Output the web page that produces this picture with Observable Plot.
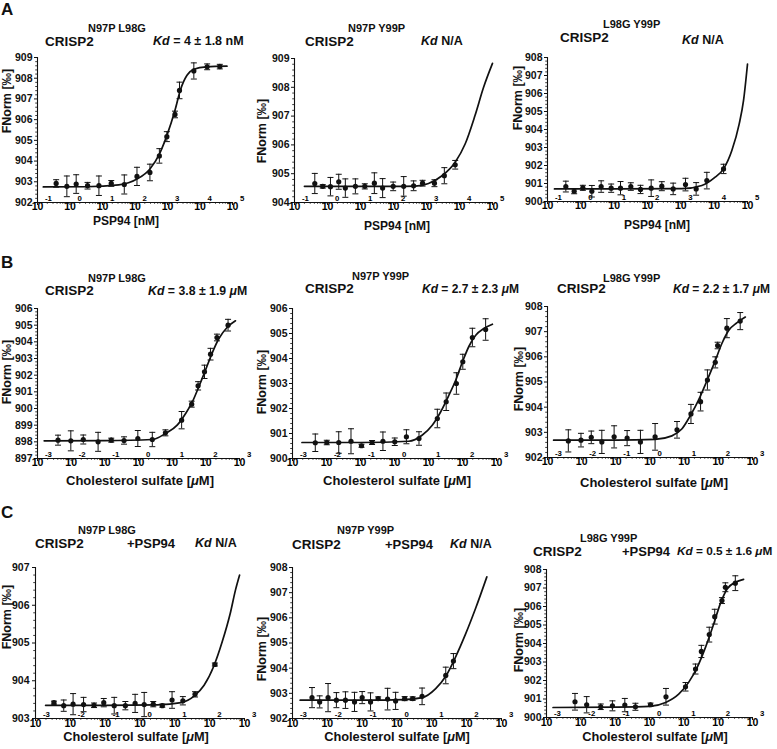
<!DOCTYPE html>
<html><head><meta charset="utf-8">
<script src="https://cdn.jsdelivr.net/npm/d3@7"></script>
<script src="https://cdn.jsdelivr.net/npm/@observablehq/plot@0.6"></script>
<style>
html,body{margin:0;padding:0;background:#fff}
#fig{position:relative;width:777px;height:749px;overflow:hidden;font-family:"Liberation Sans",Arial,Helvetica,sans-serif;font-weight:bold;color:#111}
.t{position:absolute;white-space:nowrap;line-height:1}
.yl{position:absolute;white-space:nowrap;line-height:1;transform:translate(-50%,-50%) rotate(-90deg)}
</style></head><body><div id="fig"></div><script>
// ---------- Data ----------
// Row A: CRISP2 mutants vs PSP94 [nM]
const a1Conc = [0.375, 0.80, 1.55, 3.47, 7.76, 18.6, 46.8, 115, 288, 562, 955, 1700, 2340, 6460, 16600, 40700];
const a1Norm = [902.92, 902.78, 902.89, 902.81, 902.81, 902.92, 902.87, 903.26, 903.45, 904.25, 905.18, 906.25, 907.41, 908.35, 908.55, 908.56];
const a1Err  = [0.18, 0.5, 0.45, 0.16, 0.47, 0.14, 0.46, 0.44, 0.4, 0.35, 0.24, 0.16, 0.4, 0.39, 0.14, 0.11];
const a1FitConc = [0.151, 3.16, 31.6, 115, 288, 562, 955, 1700, 2455, 3981, 6457, 15850, 67600];
const a1FitNorm = [902.75, 902.76, 902.85, 903.13, 903.62, 904.34, 905.23, 906.45, 907.4, 908.14, 908.43, 908.55, 908.58];

const a2Conc = [0.412, 0.719, 1.23, 2.19, 3.47, 7.0, 13.5, 26.3, 46.8, 97.7, 204, 407, 759, 1740, 3470, 7410];
const a2Norm = [904.66, 904.56, 904.55, 904.72, 904.50, 904.56, 904.56, 904.67, 904.50, 904.56, 904.56, 904.58, 904.67, 904.67, 904.93, 905.31];
const a2Err  = [0.35, 0.06, 0.32, 0.26, 0.32, 0.26, 0.09, 0.36, 0.33, 0.15, 0.34, 0.17, 0.1, 0.12, 0.28, 0.15];
const a2FitConc = [0.2, 10, 100, 457, 1150, 2950, 7410, 14800, 29500, 53700, 100000];
const a2FitNorm = [904.56, 904.56, 904.56, 904.57, 904.66, 904.93, 905.4, 906.03, 907.02, 908.0, 908.83];

const a3Conc = [0.355, 0.631, 1.15, 2.14, 4.07, 8.13, 15.5, 31.6, 61.7, 129, 269, 589, 1380, 2880, 6030, 19100];
const a3Norm = [900.83, 900.57, 900.76, 900.57, 900.83, 900.74, 900.74, 900.83, 900.67, 900.74, 900.85, 900.70, 900.94, 900.70, 901.16, 901.81];
const a3Err  = [0.3, 0.14, 0.14, 0.32, 0.32, 0.23, 0.37, 0.21, 0.23, 0.46, 0.25, 0.32, 0.35, 0.35, 0.46, 0.26];
const a3FitConc = [0.162, 10, 1070, 4270, 10700, 19100, 33900, 56200, 75900, 100000];
const a3FitNorm = [900.70, 900.70, 900.71, 900.89, 901.35, 901.81, 902.83, 904.3, 905.6, 907.63];

// Row B: CRISP2 mutants vs cholesterol sulfate [µM]
const b1Conc = [0.00407, 0.00977, 0.0229, 0.0631, 0.155, 0.372, 0.955, 2.57, 6.31, 19.1, 38.0, 58.9, 91.2, 138, 214, 457];
const b1Norm = [898.1, 898.06, 898.14, 898.0, 898.1, 898.08, 898.2, 898.14, 898.54, 899.3, 900.26, 901.36, 902.2, 903.26, 904.26, 905.0];
const b1Err  = [0.3, 0.6, 0.27, 0.57, 0.12, 0.22, 0.48, 0.43, 0.18, 0.52, 0.18, 0.25, 0.4, 0.35, 0.2, 0.35];
const b1FitConc = [0.00158, 0.1, 2.57, 6.31, 14.1, 25.1, 39.8, 61.7, 97.7, 155, 245, 427, 759];
const b1FitNorm = [898.06, 898.07, 898.14, 898.5, 899.0, 899.7, 900.4, 901.3, 902.3, 903.34, 904.2, 904.86, 905.26];

const b2Conc = [0.00468, 0.0102, 0.0229, 0.0525, 0.107, 0.219, 0.457, 1.02, 2.24, 5.25, 18.2, 33.1, 66.1, 102, 195, 479];
const b2Norm = [900.63, 900.64, 900.64, 900.69, 900.51, 900.64, 900.69, 900.67, 900.87, 900.8, 901.6, 902.27, 903.0, 903.87, 904.84, 905.16];
const b2Err  = [0.35, 0.09, 0.43, 0.5, 0.06, 0.08, 0.37, 0.15, 0.28, 0.27, 0.37, 0.35, 0.43, 0.3, 0.37, 0.43];
const b2FitConc = [0.0019, 0.1, 2.63, 6.46, 12.9, 22.9, 39.8, 63.1, 100, 155, 245, 427, 759];
const b2FitNorm = [900.64, 900.64, 900.69, 900.93, 901.33, 901.87, 902.53, 903.13, 903.87, 904.49, 904.93, 905.2, 905.37];

const b3Conc = [0.00407, 0.00955, 0.0191, 0.0389, 0.0891, 0.214, 0.525, 1.41, 6.17, 15.8, 30.2, 47.9, 81.3, 95.5, 178, 437];
const b3Norm = [902.66, 902.69, 902.8, 902.62, 902.82, 902.77, 902.62, 902.82, 903.1, 903.73, 904.22, 905.08, 905.78, 906.45, 907.14, 907.42];
const b3Err  = [0.44, 0.27, 0.25, 0.46, 0.44, 0.3, 0.46, 0.53, 0.33, 0.38, 0.37, 0.4, 0.22, 0.13, 0.38, 0.34];
const b3FitConc = [0.00151, 0.1, 1.41, 4.37, 8.51, 15.1, 26.3, 45.7, 81.3, 126, 200, 347, 617];
const b3FitNorm = [902.69, 902.69, 902.72, 902.86, 903.13, 903.66, 904.28, 905.03, 905.85, 906.52, 907.05, 907.35, 907.58];

// Row C: CRISP2 mutants + PSP94 vs cholesterol sulfate [µM]
const c1Conc = [0.00339, 0.00646, 0.012, 0.024, 0.0479, 0.0912, 0.182, 0.38, 0.724, 1.32, 2.4, 4.37, 8.32, 17.0, 38.0, 141];
const c1Norm = [903.42, 903.34, 903.38, 903.37, 903.35, 903.42, 903.34, 903.34, 903.4, 903.37, 903.38, 903.34, 903.49, 903.47, 903.64, 904.43];
const c1Err  = [0.04, 0.15, 0.28, 0.19, 0.06, 0.11, 0.22, 0.11, 0.24, 0.32, 0.07, 0.04, 0.22, 0.11, 0.07, 0.04];
const c1FitConc = [0.00195, 0.1, 3.16, 15.1, 36.3, 69.2, 132, 229, 389, 550, 724];
const c1FitNorm = [903.35, 903.35, 903.36, 903.42, 903.6, 903.88, 904.39, 905.03, 905.78, 906.4, 906.8];

const c2Conc = [0.00363, 0.00603, 0.0105, 0.0182, 0.0331, 0.0603, 0.1, 0.174, 0.288, 0.537, 0.912, 1.66, 2.82, 5.25, 25.1, 41.7];
const c2Norm = [902.83, 902.66, 902.83, 902.73, 902.73, 902.66, 902.83, 902.66, 902.79, 902.77, 902.7, 902.79, 902.79, 902.88, 903.71, 904.28];
const c2Err  = [0.4, 0.24, 0.56, 0.3, 0.33, 0.38, 0.24, 0.36, 0.07, 0.43, 0.34, 0.08, 0.07, 0.33, 0.33, 0.3];
const c2FitConc = [0.00166, 0.1, 1.58, 5.25, 12.9, 25.1, 47.9, 93.3, 182, 380];
const c2FitNorm = [902.73, 902.73, 902.75, 902.83, 903.19, 903.68, 904.44, 905.36, 906.39, 907.63];

const c3Conc = [0.00676, 0.0148, 0.038, 0.0832, 0.191, 0.389, 1.07, 3.02, 11.2, 21.9, 32.4, 55.0, 79.4, 129, 162, 316];
const c3Norm = [900.85, 900.69, 900.58, 900.63, 900.67, 900.58, 900.69, 901.12, 901.66, 902.62, 903.57, 904.48, 905.45, 906.32, 907.04, 907.26];
const c3Err  = [0.45, 0.44, 0.15, 0.27, 0.36, 0.19, 0.09, 0.45, 0.23, 0.27, 0.33, 0.4, 0.4, 0.16, 0.24, 0.4];
const c3FitConc = [0.00155, 0.1, 1.0, 2.95, 7.08, 13.8, 24.5, 42.7, 74.1, 115, 182, 316, 550];
const c3FitNorm = [900.54, 900.56, 900.6, 900.81, 901.26, 901.9, 902.71, 903.79, 905.05, 906.14, 906.95, 907.31, 907.47];

// Text content
const mutants = ["N97P L98G", "N97P Y99P", "L98G Y99P"];
const kdA = ["= 4 ± 1.8 nM", "N/A", "N/A"];
const kdB = ["= 3.8 ± 1.9 ", "= 2.7 ± 2.3 ", "= 2.2 ± 1.7 "];
const kdC = ["N/A", "N/A", "= 0.5 ± 1.6 "];
const xLabelA = "PSP94 [nM]";
const yLabel = "FNorm [‰]";

// ---------- Drawing ----------
const fig = document.getElementById("fig");
const cap = {draw(ctx) { ctx.moveTo(-3, 0); ctx.lineTo(3, 0); }};

function panel(p) {
  const mL = 30, mR = 18, mT = 6, mB = 20;
  const W = p.R - p.L + mL + mR, H = p.B - p.T + mT + mB;
  const pts = p.conc.map((c, i) => ({c, v: p.norm[i], e: p.err[i]}));
  const fit = p.fitConc.map((c, i) => ({c, v: p.fitNorm[i]}));
  const e0 = Math.round(Math.log10(p.x[0])), e1 = Math.round(Math.log10(p.x[1]));
  const majors = d3.range(e0, e1 + 1).map(k => 10 ** k);
  const minors = [];
  for (let k = e0; k < e1; k++) for (let m = 2; m <= 9; m++) minors.push(m * 10 ** k);
  const yMajors = d3.range(p.y[0], p.y[1] + 1);
  const yMinors = d3.range(p.y[0] * 5, p.y[1] * 5 + 1).map(v => v / 5).filter(v => Math.abs(v - Math.round(v)) > 1e-6);
  const svg = Plot.plot({
    width: W, height: H, marginLeft: mL, marginRight: mR, marginTop: mT, marginBottom: mB,
    x: {type: "log", domain: p.x},
    y: {domain: p.y},
    style: {fontFamily: "'Liberation Sans', Arial, sans-serif", fontWeight: "bold", fontSize: "10.5px", background: "transparent", color: "#111", overflow: "visible"},
    marks: [
      Plot.axisY(yMajors, {tickSize: 3, tickPadding: p.pad ?? 2, tickFormat: d => String(d), label: null, strokeWidth: 1}),
      Plot.axisY(yMinors, {tickSize: 1.8, tickFormat: () => "", label: null, strokeWidth: 0.8}),
      Plot.axisX(majors, {tickSize: 3, tickFormat: () => "", label: null, strokeWidth: 1}),
      Plot.axisX(minors, {tickSize: 1.8, tickFormat: () => "", label: null, strokeWidth: 0.8}),
      Plot.ruleX([p.x[0]], {stroke: "#111", strokeWidth: 1.1}),
      Plot.ruleY([p.y[0]], {stroke: "#111", strokeWidth: 1.1}),
      Plot.text(majors, {x: d => d, frameAnchor: "bottom", text: () => "10", dy: p.tdy ?? 7.5, fontSize: 10.5, fill: "#000"}),
      Plot.text(majors, {x: d => d, frameAnchor: "bottom", text: d => String(Math.round(Math.log10(d))), dx: 7.5, dy: -1.5, textAnchor: "start", fontSize: 7.8, fill: "#000"}),
      Plot.line(fit, {x: "c", y: "v", curve: "monotone-x", stroke: "#111", strokeWidth: 1.7}),
      Plot.ruleX(pts, {x: "c", y1: d => d.v - d.e, y2: d => d.v + d.e, stroke: "#111", strokeWidth: 1}),
      Plot.dot(pts, {x: "c", y: d => d.v + d.e, symbol: cap, fill: "none", stroke: "#111", strokeWidth: 1}),
      Plot.dot(pts, {x: "c", y: d => d.v - d.e, symbol: cap, fill: "none", stroke: "#111", strokeWidth: 1}),
      Plot.dot(pts, {x: "c", y: "v", r: 2.6, fill: "#111", stroke: "none"})
    ]
  });
  svg.style.position = "absolute";
  svg.style.left = (p.L - mL) + "px";
  svg.style.top = (p.T - mT) + "px";
  fig.appendChild(svg);
}

function txt(x, base, html, size) {
  const s = document.createElement("div");
  s.className = "t";
  s.style.left = x + "px";
  s.style.top = (base - 0.8465 * size) + "px";
  s.style.fontSize = size + "px";
  s.innerHTML = html;
  fig.appendChild(s);
}
function ylab(cx, cy) {
  const s = document.createElement("div");
  s.className = "yl";
  s.style.left = cx + "px"; s.style.top = cy + "px"; s.style.fontSize = "12.5px";
  s.textContent = yLabel;
  fig.appendChild(s);
}
function xlab(cx, base, html, size) {
  const s = document.createElement("div");
  s.className = "t";
  s.style.left = cx + "px";
  s.style.top = (base - 0.8465 * size) + "px";
  s.style.fontSize = size + "px";
  s.style.transform = "translateX(-50%)";
  s.innerHTML = html;
  fig.appendChild(s);
}

const pA = [0.1, 1e5], pC = [1e-3, 1e3];
panel({conc: a1Conc, norm: a1Norm, err: a1Err, fitConc: a1FitConc, fitNorm: a1FitNorm, x: pA, y: [902, 909], L: 37, R: 232, T: 57, B: 202});
panel({conc: a2Conc, norm: a2Norm, err: a2Err, fitConc: a2FitConc, fitNorm: a2FitNorm, x: pA, y: [904, 909], L: 294, R: 492, T: 58, B: 202});
panel({conc: a3Conc, norm: a3Norm, err: a3Err, fitConc: a3FitConc, fitNorm: a3FitNorm, x: pA, y: [900, 908], L: 547, R: 747, T: 57, B: 201});
panel({conc: b1Conc, norm: b1Norm, err: b1Err, fitConc: b1FitConc, fitNorm: b1FitNorm, x: pC, y: [897, 906], L: 37, R: 239, T: 308, B: 458});
panel({conc: b2Conc, norm: b2Norm, err: b2Err, fitConc: b2FitConc, fitNorm: b2FitNorm, x: pC, y: [900, 906], L: 292, R: 496, T: 308, B: 458});
panel({conc: b3Conc, norm: b3Norm, err: b3Err, fitConc: b3FitConc, fitNorm: b3FitNorm, x: pC, y: [902, 908], L: 547, R: 752, T: 306, B: 457});
panel({conc: c1Conc, norm: c1Norm, err: c1Err, fitConc: c1FitConc, fitNorm: c1FitNorm, x: pC, y: [903, 907], L: 35, R: 244, T: 567, B: 718, pad: 3, tdy: 8.8});
panel({conc: c2Conc, norm: c2Norm, err: c2Err, fitConc: c2FitConc, fitNorm: c2FitNorm, x: pC, y: [902, 908], L: 292, R: 501, T: 567, B: 718, tdy: 8.5});
panel({conc: c3Conc, norm: c3Norm, err: c3Err, fitConc: c3FitConc, fitNorm: c3FitNorm, x: pC, y: [900, 908], L: 546, R: 752, T: 569, B: 717, tdy: 8.5});

// Panel letters
txt(1, 15, "A", 17); txt(1, 268, "B", 17); txt(1, 518, "C", 17);

// Titles
const kd = s => "<i>Kd</i> " + s;
const mu = s => s + "<i>μ</i>M";
// Row A
txt(45, 46, "CRISP2", 13.5); txt(88, 32, mutants[0], 11); txt(153, 46, kd(kdA[0]), 12.5);
txt(305, 46, "CRISP2", 13.5); txt(348, 32, mutants[1], 11); txt(421, 46, kd(kdA[1]), 12.5);
txt(560, 42, "CRISP2", 13.5); txt(603, 28, mutants[2], 11); txt(682, 45, kd(kdA[2]), 12.5);
// Row B
txt(45, 295, "CRISP2", 13.5); txt(88, 282, mutants[0], 11); txt(148, 295, kd(mu(kdB[0])), 12.3);
txt(305, 293, "CRISP2", 13.5); txt(352, 280, mutants[1], 11); txt(422, 293, kd(mu(kdB[1])), 12);
txt(557, 293, "CRISP2", 13.5); txt(603, 282, mutants[2], 11); txt(673, 293, kd(mu(kdB[2])), 12);
// Row C
txt(35, 548, "CRISP2", 13.5); txt(78, 534, mutants[0], 11); txt(127, 548, "+PSP94", 13); txt(195, 548, kd(kdC[0]), 12.5);
txt(292, 549, "CRISP2", 13.5); txt(337, 534, mutants[1], 11); txt(385, 549, "+PSP94", 13); txt(450, 549, kd(kdC[1]), 12.5);
txt(533, 556, "CRISP2", 13.5); txt(580, 542, mutants[2], 11); txt(622, 556, "+PSP94", 13); txt(677, 556, kd(mu(kdC[2])), 11.8);

// Axis labels
const xLabelB = "Cholesterol sulfate [<i>μ</i>M]";
xlab(126, 225, xLabelA, 12); xlab(397, 230, xLabelA, 12); xlab(657, 229, xLabelA, 12);
xlab(140, 485, xLabelB, 13); xlab(397, 485, xLabelB, 13); xlab(654, 487, xLabelB, 13);
xlab(136, 742, xLabelB, 12.8); xlab(397, 742, xLabelB, 12.8); xlab(655, 742, xLabelB, 12.8);
ylab(7, 101); ylab(262, 131); ylab(518, 98);
ylab(7, 372); ylab(262, 382); ylab(519, 379);
ylab(7, 617); ylab(262, 649); ylab(519, 640);
</script></body></html>
